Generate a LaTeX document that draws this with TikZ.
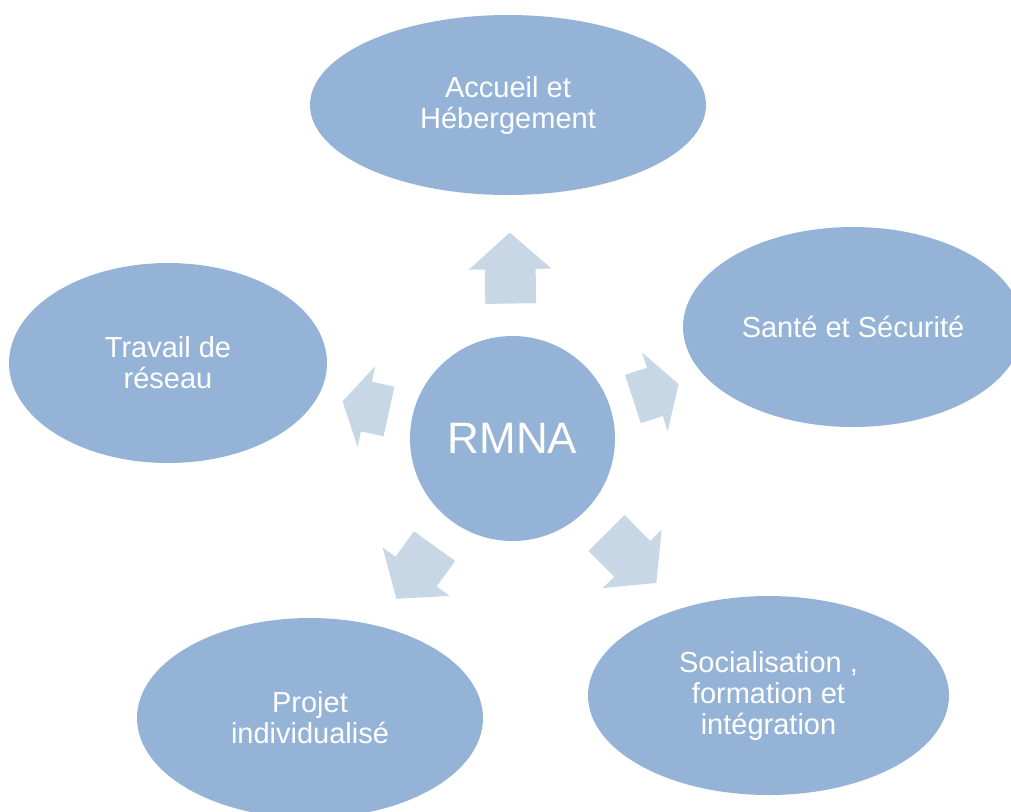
\documentclass[tikz,border=0pt]{standalone}
\usepackage{fontspec}
\setmainfont{Liberation Sans}
\usetikzlibrary{shapes.geometric,shapes.arrows,calc}
\definecolor{nodeblue}{HTML}{95B3D6}
\definecolor{arrowblue}{HTML}{C8D7E6}
\tikzset{
  topic/.style={ellipse, fill=nodeblue, text=white, align=center, inner sep=0pt,
    font=\fontsize{14.5}{15.5}\selectfont},
  outarrow/.style={single arrow, fill=arrowblue, inner xsep=0pt, inner ysep=12.5pt,
    single arrow head extend=8pt, anchor=tip}
}
\begin{document}
\begin{tikzpicture}[x=0.5pt,y=-0.5pt]
\useasboundingbox (0,0) rectangle (1011,811);
\node[circle, fill=nodeblue, text=white, minimum size=102.5pt, inner sep=0pt,
  font=\fontsize{22}{26}\selectfont] (rmna) at (512.5,438.5) {RMNA};
\node[topic, minimum width=198pt, minimum height=90pt] (accueil) at (508,105) {Accueil et\\Hébergement};
\node[topic, minimum width=170pt, minimum height=100pt] (sante) at (853,327) {Santé et Sécurité};
\node[topic, minimum width=180.5pt, minimum height=99.5pt] (social) at (768.5,695.5) {Socialisation ,\\formation et\\intégration};
\node[topic, minimum width=173pt, minimum height=100pt] (projet) at (310,718) {Projet\\individualisé};
\node[topic, minimum width=159pt, minimum height=100pt] (reseau) at (168,363) {Travail de\\réseau};
\node[outarrow, rotate=90.8, minimum height=35.5pt, single arrow tip angle=97] (toaccueil)
  at ($(rmna.center)!103.25pt!(accueil.center)$) {};
\node[outarrow, rotate=18.1, minimum height=24pt, single arrow tip angle=118] (tosante)
  at ($(rmna.center)!87.6pt!(sante.center)$) {};
\node[outarrow, rotate=-45.1, minimum height=35.3pt, single arrow tip angle=101] (tosocial)
  at ($(rmna.center)!102.2pt!(social.center)$) {};
\node[outarrow, rotate=-125.9, minimum height=32.5pt, single arrow tip angle=102] (toprojet)
  at ($(rmna.center)!99.2pt!(projet.center)$) {};
\node[outarrow, rotate=167.6, minimum height=23.75pt, single arrow tip angle=119] (toreseau)
  at ($(rmna.center)!87.2pt!(reseau.center)$) {};
\end{tikzpicture}
\end{document}
